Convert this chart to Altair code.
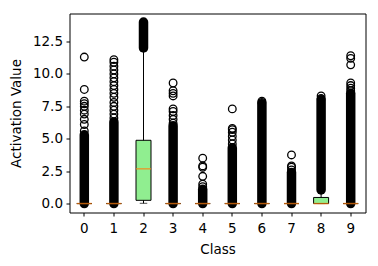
import altair as alt
import pandas as pd

# ---- data ----
classes = [0, 1, 2, 3, 4, 5, 6, 7, 8, 9]
q1 = [0, 0, 0.25, 0, 0, 0, 0, 0, 0, 0]
median = [0, 0, 2.68, 0, 0, 0, 0, 0, 0, 0]
q3 = [0, 0, 4.88, 0, 0, 0, 0, 0, 0.47, 0]
whisk_lo = [0, 0, 0.02, 0, 0, 0, 0, 0, 0, 0]
whisk_hi = [0, 0, 11.8, 0, 0, 0, 0, 0, 0.95, 0]

# ranges where fliers overlap into a solid column
dense_lo = [0.0, 0.0, 12.0, 0.0, 0.0, 0.0, 0.0, 0.0, 1.05, 0.0]
dense_hi = [5.3, 6.3, 14.0, 6.0, 1.1, 4.3, 7.7, 2.4, 8.0, 8.5]

# individually visible fliers
sparse = {
    0: [5.6, 6.1, 6.5, 6.9, 7.2, 7.5, 7.7, 7.9, 8.8, 11.3],
    1: [6.6, 6.9, 7.2, 7.5, 7.8, 8.2, 8.5, 8.8, 9.1, 9.4, 9.7, 10.0, 10.3, 10.6, 10.9, 11.1],
    2: [12.2, 12.5, 12.8, 13.1, 13.4, 13.7, 13.9],
    3: [6.2, 6.5, 6.8, 7.1, 7.3, 8.3, 8.5, 8.7, 9.3],
    4: [1.3, 1.5, 2.1, 2.8, 2.9, 3.5],
    5: [4.6, 4.9, 5.2, 5.5, 5.7, 5.8, 7.3],
    6: [7.8, 7.9],
    7: [2.6, 2.8, 2.9, 3.75],
    8: [8.1, 8.3],
    9: [8.7, 8.9, 9.1, 9.3, 10.7, 11.2, 11.4],
}

y_ticks = [0.0, 2.5, 5.0, 7.5, 10.0, 12.5]

box_df = pd.DataFrame({
    "cls": classes, "q1": q1, "med": median, "q3": q3,
    "wlo": whisk_lo, "whi": whisk_hi, "dlo": dense_lo, "dhi": dense_hi,
})
pts_df = pd.DataFrame(
    [{"cls": c, "v": v} for c, vals in sparse.items() for v in vals]
)

FONT = "DejaVu Sans"
FS = 13.5
x_enc = alt.X(
    "cls:O",
    scale=alt.Scale(type="band", paddingInner=0, paddingOuter=0),
    axis=alt.Axis(title="Class", labelAngle=0, domain=False, tickColor="black",
                  tickSize=3.5, labelPadding=5, labelColor="black", titleColor="black",
                  labelFont=FONT, titleFont=FONT, labelFontSize=FS, titleFontSize=FS,
                  titleFontWeight="normal", titlePadding=8, grid=False),
)
y_scale = alt.Scale(domain=[-0.69, 14.66], nice=False, zero=False)
y_axis = alt.Axis(title="Activation Value", values=y_ticks, format=".1f", domain=False,
                  tickColor="black", tickSize=3.5, labelPadding=3.5, labelColor="black",
                  titleColor="black", labelFont=FONT, titleFont=FONT, labelFontSize=FS,
                  titleFontSize=FS, titleFontWeight="normal", titlePadding=9, grid=False)

base = alt.Chart(box_df)

whiskers = base.mark_rule(color="black", strokeWidth=1).encode(
    x=x_enc, y=alt.Y("wlo:Q", scale=y_scale, axis=y_axis), y2="whi:Q")
caps_lo = base.mark_tick(color="black", size=7.5, thickness=1).encode(
    x=x_enc, y=alt.Y("wlo:Q", scale=y_scale, axis=y_axis))
caps_hi = base.mark_tick(color="black", size=7.5, thickness=1).encode(
    x=x_enc, y=alt.Y("whi:Q", scale=y_scale, axis=y_axis))
boxes = base.mark_bar(size=15, fill="#90ee90", stroke="black", strokeWidth=1).encode(
    x=x_enc, y=alt.Y("q1:Q", scale=y_scale, axis=y_axis), y2="q3:Q")
dense = base.mark_rule(color="black", strokeWidth=9.5, strokeCap="round").encode(
    x=x_enc, y=alt.Y("dlo:Q", scale=y_scale, axis=y_axis), y2="dhi:Q")
points = alt.Chart(pts_df).mark_point(shape="circle", size=58, filled=False,
                                      stroke="black", strokeWidth=1.3, opacity=1).encode(
    x=x_enc, y=alt.Y("v:Q", scale=y_scale, axis=y_axis))
medians = base.mark_tick(color="#ff7f0e", size=15, thickness=1.5).encode(
    x=x_enc, y=alt.Y("med:Q", scale=y_scale, axis=y_axis))

chart = alt.layer(whiskers, caps_lo, caps_hi, boxes, dense, points, medians).properties(
    width=296, height=199,
    autosize=alt.AutoSizeParams(type="none"),
    padding={"left": 61.5, "top": 5.5, "right": 4.5, "bottom": 45.5},
).configure_view(stroke="black", strokeWidth=1, strokeOpacity=1)

chart.save("out.html", embed_options={"renderer": "svg", "actions": False})
